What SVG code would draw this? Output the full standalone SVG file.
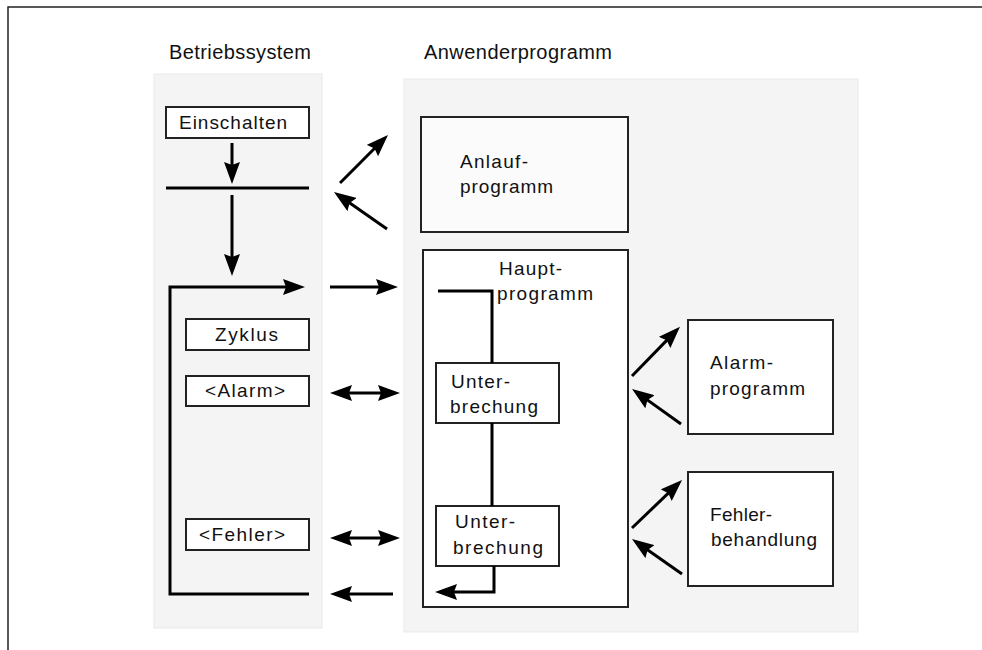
<svg xmlns="http://www.w3.org/2000/svg" width="982" height="650" viewBox="0 0 982 650">
  <style>
    text { font-family: "Liberation Sans", Arial, sans-serif; font-size: 19px; fill: #111; }
    .title { font-size: 20px; }
    .panel { fill: #f4f4f4; stroke: #e9e9e9; stroke-width: 1; }
    .box { fill: #ffffff; stroke: #222; stroke-width: 2; }
    .line { fill: none; stroke: #000; stroke-width: 3; }
    .arrow { fill: none; stroke: #000; stroke-width: 3; marker-end: url(#head); }
    .dbl { fill: none; stroke: #000; stroke-width: 3; marker-start: url(#head); marker-end: url(#head); }
  </style>
  <defs>
    <marker id="head" viewBox="0 0 22 16" markerWidth="22" markerHeight="16" refX="11" refY="8" orient="auto-start-reverse" markerUnits="userSpaceOnUse">
      <path d="M0,0 L22,8 L0,16 L3,8 z" fill="#000"/>
    </marker>
  </defs>

  <rect width="982" height="650" fill="#ffffff"/>
  <!-- page frame -->
  <path d="M8,650 V7 H982" fill="none" stroke="#222" stroke-width="1.5"/>

  <!-- column headers and panels -->
  <g id="betriebssystem">
    <rect class="panel" x="154" y="74" width="168" height="554"/>
    <text class="title" x="169" y="59" textLength="142" lengthAdjust="spacing">Betriebssystem</text>
  </g>
  <g id="anwenderprogramm">
    <rect class="panel" x="404" y="79" width="454" height="553"/>
    <text class="title" x="424" y="59" textLength="188" lengthAdjust="spacing">Anwenderprogramm</text>
  </g>

  <!-- operating system nodes -->
  <g id="einschalten">
    <rect class="box" x="166" y="107" width="143" height="31"/>
    <text x="179" y="129" textLength="108" lengthAdjust="spacing">Einschalten</text>
  </g>
  <g id="startbar">
    <line x1="166" y1="188" x2="309" y2="188" stroke="#000" stroke-width="3"/>
  </g>
  <g id="zyklus">
    <rect class="box" x="186" y="319" width="123" height="31"/>
    <text x="215" y="341" textLength="63" lengthAdjust="spacing">Zyklus</text>
  </g>
  <g id="alarm">
    <rect class="box" x="186" y="376" width="123" height="30"/>
    <text x="205" y="397" textLength="80" lengthAdjust="spacing">&lt;Alarm&gt;</text>
  </g>
  <g id="fehler">
    <rect class="box" x="186" y="519" width="123" height="31"/>
    <text x="199" y="541" textLength="86" lengthAdjust="spacing">&lt;Fehler&gt;</text>
  </g>

  <!-- user program nodes -->
  <g id="anlaufprogramm">
    <rect class="box" x="421" y="117" width="207" height="115" style="fill:#fbfbfb"/>
    <text x="460" y="168" textLength="68" lengthAdjust="spacing">Anlauf-</text>
    <text x="460" y="193" textLength="93" lengthAdjust="spacing">programm</text>
  </g>
  <g id="hauptprogramm">
    <rect class="box" x="423" y="250" width="205" height="357"/>
    <text x="499" y="275" textLength="63" lengthAdjust="spacing">Haupt-</text>
    <text x="497" y="300" textLength="96" lengthAdjust="spacing">programm</text>
  </g>
  <g id="unterbrechung1">
    <rect class="box" x="436" y="363" width="123" height="60"/>
    <text x="451" y="388" textLength="59" lengthAdjust="spacing">Unter-</text>
    <text x="450" y="413" textLength="88" lengthAdjust="spacing">brechung</text>
  </g>
  <g id="unterbrechung2">
    <rect class="box" x="436" y="506" width="123" height="60"/>
    <text x="455" y="528" textLength="60" lengthAdjust="spacing">Unter-</text>
    <text x="453" y="554" textLength="90" lengthAdjust="spacing">brechung</text>
  </g>
  <g id="alarmprogramm">
    <rect class="box" x="688" y="320" width="145" height="114"/>
    <text x="710" y="369" textLength="63" lengthAdjust="spacing">Alarm-</text>
    <text x="710" y="395" textLength="95" lengthAdjust="spacing">programm</text>
  </g>
  <g id="fehlerbehandlung">
    <rect class="box" x="688" y="472" width="145" height="114"/>
    <text x="710" y="521" textLength="62" lengthAdjust="spacing">Fehler-</text>
    <text x="711" y="546" textLength="106" lengthAdjust="spacing">behandlung</text>
  </g>

  <!-- connectors -->
  <g id="connectors">
    <path class="arrow" d="M232,143 V173"/>
    <path class="arrow" d="M232,195 V265"/>
    <path class="arrow" d="M309,594 H170 V287 H294"/>

    <path class="arrow" d="M340,183 L380.2,142.8"/>
    <path class="arrow" d="M387,229 L343,198.3"/>
    <path class="arrow" d="M330,287 H387"/>
    <path class="dbl" d="M341,393 H389"/>
    <path class="dbl" d="M341,538 H389"/>
    <path class="arrow" d="M393,594 H341"/>

    <path class="line" d="M438,291 H492 V363"/>
    <path class="line" d="M492,423 V506"/>
    <path class="arrow" d="M494,566 V592 H446"/>

    <path class="arrow" d="M632,376 L672.3,334.6"/>
    <path class="arrow" d="M681,424 L641,395.4"/>
    <path class="arrow" d="M632,528 L674.1,487.6"/>
    <path class="arrow" d="M682,574 L641,545.3"/>
  </g>
</svg>
